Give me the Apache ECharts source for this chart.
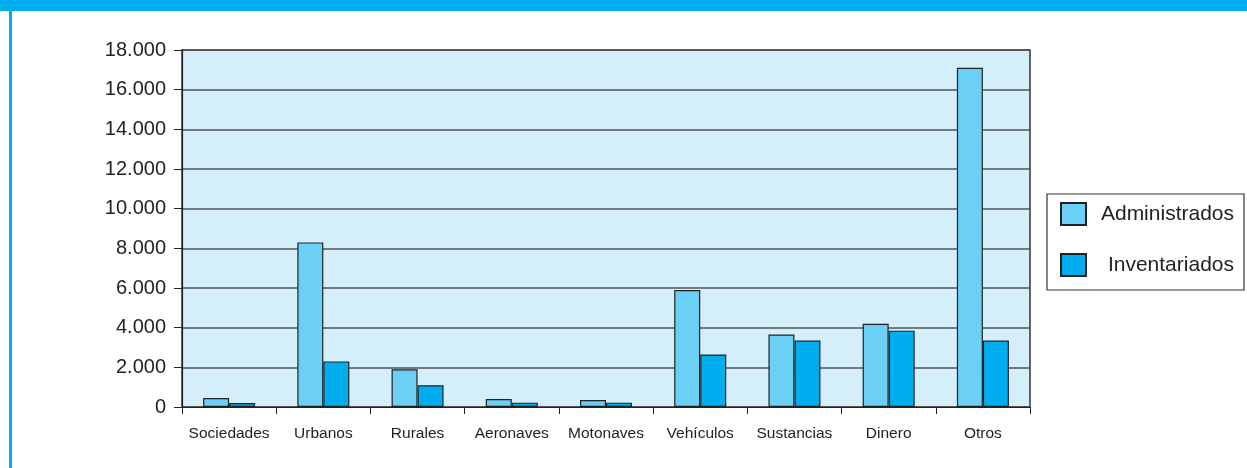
<!DOCTYPE html>
<html><head><meta charset="utf-8">
<script src="https://cdn.jsdelivr.net/npm/echarts@6/dist/echarts.min.js"></script>
<style>html,body{margin:0;padding:0;background:#fff}#c{width:1247px;height:468px}</style>
</head><body><div id="c"></div>
<script>
const categories = ['Sociedades','Urbanos','Rurales','Aeronaves','Motonaves','Vehículos','Sustancias','Dinero','Otros'];
const administrados = [450, 8300, 1900, 400, 350, 5900, 3650, 4200, 17100];
const inventariados = [200, 2300, 1100, 220, 220, 2650, 3350, 3850, 3350];
const seriesNames = ['Administrados', 'Inventariados'];
const yTicks = {min: 0, max: 18000, interval: 2000};

const chart = echarts.init(document.getElementById('c'), null, {renderer: 'canvas'});
const font = 'Liberation Sans, Arial, sans-serif';
chart.setOption({
  animation: false,
  backgroundColor: '#fff',
  graphic: [
    {type: 'rect', shape: {x: 0, y: 0, width: 1247, height: 11}, style: {fill: '#00aeef'}, z: 10},
    {type: 'rect', shape: {x: 9, y: 0, width: 3, height: 468}, style: {fill: '#00aeef'}, z: 10}
  ],
  grid: {left: 182, top: 50, right: 217, bottom: 61, show: true, backgroundColor: '#d4eefa', borderColor: '#333', borderWidth: 1.5},
  legend: {
    orient: 'vertical', left: 1047, top: 194,
    padding: [8, 10, 13, 13],
    itemWidth: 25, itemHeight: 22, itemGap: 27,
    borderColor: '#333', borderWidth: 1.2,
    icon: 'rect',
    formatter: name => '{t|' + name + '}',
    textStyle: {
      fontFamily: font, fontSize: 21, color: '#222',
      rich: {t: {fontFamily: font, fontSize: 21, color: '#222', width: 143, align: 'right'}}
    },
    data: seriesNames
  },
  xAxis: {
    type: 'category', data: categories,
    axisLine: {lineStyle: {color: '#222', width: 1.2}},
    axisTick: {show: true, interval: 0, length: 7, lineStyle: {color: '#222'}},
    axisLabel: {interval: 0, hideOverlap: false, fontFamily: font, fontSize: 15.5, color: '#222', margin: 19}
  },
  yAxis: {
    type: 'value', min: yTicks.min, max: yTicks.max, interval: yTicks.interval,
    axisLine: {show: true, lineStyle: {color: '#222', width: 1.2}},
    axisTick: {show: true, length: 8, lineStyle: {color: '#222'}},
    splitLine: {lineStyle: {color: '#555', width: 1.5}},
    axisLabel: {fontFamily: font, fontSize: 20, color: '#222', margin: 16,
      formatter: v => v.toString().replace(/\B(?=(\d{3})+(?!\d))/g, '.')}
  },
  series: [
    {name: seriesNames[0], type: 'bar', data: administrados, barWidth: 26, barGap: '0%',
      itemStyle: {color: '#6ccff6', borderColor: '#222', borderWidth: 1.2}},
    {name: seriesNames[1], type: 'bar', data: inventariados, barWidth: 26,
      itemStyle: {color: '#00aeef', borderColor: '#222', borderWidth: 1.2}}
  ]
});
</script></body></html>
